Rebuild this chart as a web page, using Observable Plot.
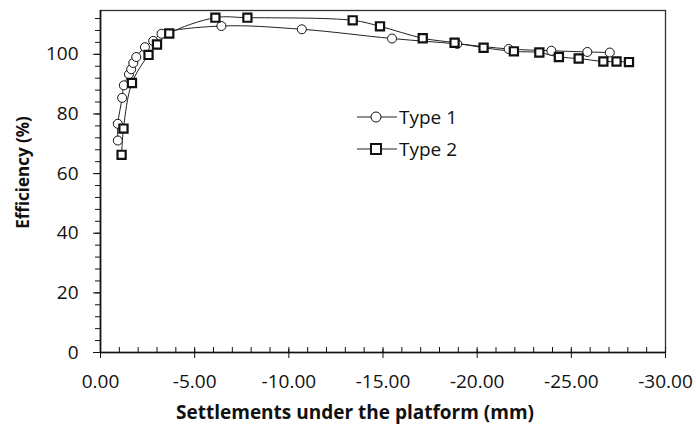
<!DOCTYPE html>
<html><head><meta charset="utf-8">
<script src="https://cdn.jsdelivr.net/npm/d3@7"></script>
<script src="https://cdn.jsdelivr.net/npm/@observablehq/plot@0.6"></script>
<style>
body{margin:0;background:#fff;}
#wrap{position:relative;width:696px;height:424px;font-family:"Open Sans",sans-serif;}
#legend{position:absolute;left:357px;top:101px;font-size:19px;color:#111;}
#legend div{display:flex;align-items:center;height:32px;}
#legend svg{margin-right:2px;}
</style></head>
<body><div id="wrap"><div id="legend"></div></div>
<script>
const type1X = [-0.92,-0.92,-1.15,-1.24,-1.51,-1.63,-1.74,-1.90,-2.36,-2.80,-3.24,-6.42,-10.69,-15.48,-18.94,-21.67,-23.94,-25.85,-27.04];
const type1Y = [71.1,76.7,85.4,89.6,93.3,95.0,97.1,99.1,102.4,104.5,106.9,109.5,108.4,105.3,103.5,101.8,101.2,100.8,100.6];
const type2X = [-1.12,-1.22,-1.67,-2.55,-3.00,-3.65,-6.10,-7.80,-13.39,-14.84,-17.11,-18.80,-20.34,-21.95,-23.30,-24.34,-25.39,-26.70,-27.40,-28.06];
const type2Y = [66.3,75.1,90.4,99.8,103.3,107.0,112.3,112.3,111.4,109.4,105.4,103.9,102.2,101.0,100.6,99.1,98.6,97.6,97.6,97.4];
const xTicks = [0,-5,-10,-15,-20,-25,-30];
const yTicks = [0,20,40,60,80,100];
const seriesNames = ["Type 1","Type 2"];

const t1 = type1X.map((x,i)=>({x, y:type1Y[i]}));
const t2 = type2X.map((x,i)=>({x, y:type2Y[i]}));
const xMinor = d3.range(0,-30.5,-1);
const yMinor = d3.range(0,115,4);
const none = () => "";

const chart = Plot.plot({
  width:696, height:424,
  marginLeft:100, marginRight:31, marginTop:10, marginBottom:72,
  style:{fontFamily:"'Open Sans', sans-serif", fontSize:"19px", color:"#111", background:"white"},
  x:{domain:[0,-30]},
  y:{domain:[0,114.7]},
  marks:[
    Plot.frame({stroke:"#333", strokeWidth:1.3}),
    Plot.axisX({ticks:xMinor, tickSize:-5, tickFormat:none, label:null, stroke:"#111"}),
    Plot.axisX({ticks:xTicks, tickSize:-3, tickFormat:none, label:null, stroke:"#111"}),
    Plot.axisX({ticks:xTicks, tickSize:6, tickPadding:16, tickFormat:d=>d.toFixed(2), label:null, stroke:"#111", fontSize:19}),
    Plot.axisY({ticks:yMinor, tickSize:5, tickFormat:none, label:null, stroke:"#111"}),
    Plot.axisY({ticks:yTicks, tickSize:7, tickPadding:15, label:null, stroke:"#111", fontSize:19}),
    Plot.ruleY([0],{stroke:"#111",strokeWidth:1.6}),
    Plot.ruleX([0],{stroke:"#111",strokeWidth:1.6}),
    Plot.line(t1,{x:"x",y:"y",curve:"catmull-rom",stroke:"#222",strokeWidth:1}),
    Plot.line(t2,{x:"x",y:"y",curve:"catmull-rom",stroke:"#222",strokeWidth:1}),
    Plot.dot(t1,{x:"x",y:"y",r:4.5,stroke:"#111",fill:"white",strokeWidth:1}),
    Plot.dot(t2,{x:"x",y:"y",symbol:"square",r:4.6,stroke:"#111",fill:"white",strokeWidth:2.2}),
    Plot.text(["Settlements under the platform (mm)"],{text:d=>d,frameAnchor:"bottom",lineAnchor:"middle",textAnchor:"middle",dy:60,dx:-28,fontWeight:"bold",fontSize:19}),
    Plot.text(["Efficiency (%)"],{text:d=>d,frameAnchor:"left",lineAnchor:"middle",textAnchor:"middle",dx:-77,dy:-9,rotate:-90,fontWeight:"bold",fontSize:17})
  ]
});
document.getElementById("wrap").prepend(chart);

const leg = document.getElementById("legend");
seriesNames.forEach((name,i)=>{
  const row = document.createElement("div");
  const mark = i===0
    ? `<circle cx="19" cy="8" r="5" fill="white" stroke="#111" stroke-width="1"/>`
    : `<rect x="14" y="3" width="10" height="10" fill="white" stroke="#111" stroke-width="2"/>`;
  row.innerHTML = `<svg width="40" height="16"><line x1="0" y1="8" x2="40" y2="8" stroke="#222"/>${mark}</svg><span>${name}</span>`;
  leg.appendChild(row);
});
</script></body></html>
